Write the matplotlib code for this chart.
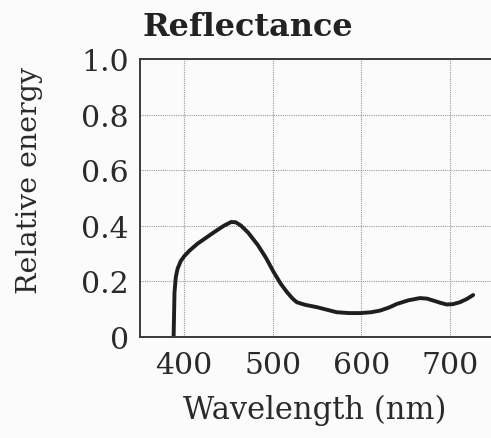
import matplotlib
matplotlib.use("Agg")
import matplotlib.pyplot as plt

wavelength = [388, 389, 390.5, 392.5, 396, 400, 406, 415, 425, 434, 445, 453, 458, 464, 472, 483, 492, 501, 509, 516, 522, 527, 536, 550, 561, 572, 586, 599, 611, 621, 631, 640, 653, 666, 674, 681, 689, 696, 703, 711, 719, 726]
reflectance = [0.0, 0.16, 0.215, 0.245, 0.272, 0.29, 0.31, 0.335, 0.357, 0.377, 0.400, 0.413, 0.412, 0.400, 0.375, 0.33, 0.285, 0.232, 0.19, 0.16, 0.138, 0.124, 0.115, 0.106, 0.097, 0.088, 0.085, 0.085, 0.088, 0.094, 0.105, 0.118, 0.131, 0.139, 0.137, 0.13, 0.122, 0.116, 0.117, 0.124, 0.136, 0.15]
xticks = [400, 500, 600, 700]
yticks = [0, 0.2, 0.4, 0.6, 0.8, 1.0]
ytick_labels = ["0", "0.2", "0.4", "0.6", "0.8", "1.0"]

plt.rcParams['font.family'] = ['DejaVu Serif']
fig = plt.figure(figsize=(4.91, 4.39), dpi=100, facecolor='#fbfbfb')
ax = fig.add_axes([0.285, 0.2308, 0.722, 0.6326])
ax.set_facecolor('#fbfbfb')
ax.plot(wavelength, reflectance, color='#1e1e1e', lw=2.8, solid_capstyle='round', solid_joinstyle='round')
ax.set_xlim(350, 750)
ax.set_ylim(0, 1.0)
ax.set_xticks(xticks)
ax.set_yticks(yticks)
ax.set_yticklabels(ytick_labels)
ax.grid(True, color='#9a9a9a', lw=0.8, ls=(0, (1, 1)))
ax.tick_params(length=0, labelsize=21.5, colors='#2a2a2a')
ax.tick_params(axis='y', pad=8)
ax.tick_params(axis='x', pad=10)
for s in ax.spines.values():
    s.set_color('#3a3a3a')
    s.set_linewidth(1.4)
ax.set_xlabel('Wavelength (nm)', fontsize=22, color='#2a2a2a')
ax.set_ylabel('Relative energy', fontsize=20.5, color='#2a2a2a')
ax.xaxis.set_label_coords(0.494, -0.206)
ax.yaxis.set_label_coords(-0.274, 0.566)
fig.text(0.291, 0.938, 'Reflectance', fontsize=23, fontweight='bold', color='#222222', ha='left', va='center')
fig.savefig('out.png', dpi=100, facecolor=fig.get_facecolor())
